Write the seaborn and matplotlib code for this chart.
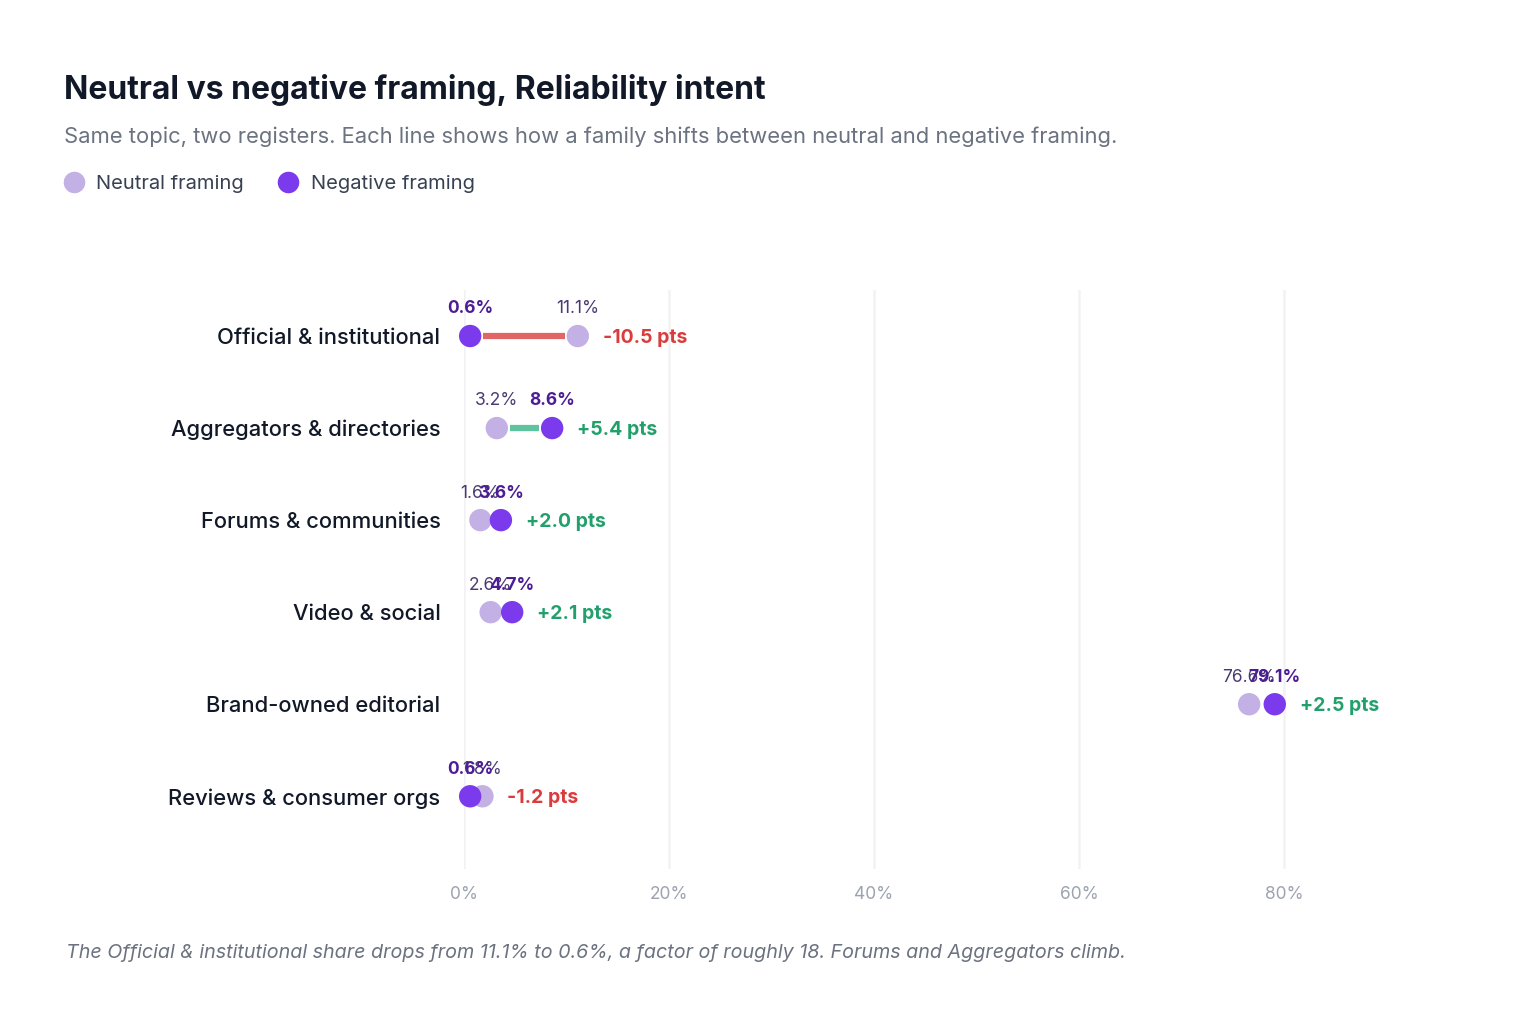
import pandas as pd
import matplotlib.pyplot as plt
import seaborn as sns
from matplotlib.lines import Line2D

# data
families = ['Official & institutional', 'Aggregators & directories', 'Forums & communities',
            'Video & social', 'Brand-owned editorial', 'Reviews & consumer orgs']
neutral = [11.1, 3.2, 1.6, 2.6, 76.6, 1.8]
negative = [0.6, 8.6, 3.6, 4.7, 79.1, 0.6]
x_ticks = [0, 20, 40, 60, 80]

c_neu = '#c3b1e5'
c_neg = '#7c3aed'
c_up_line, c_up_txt = '#5ec4a0', '#22a06b'
c_dn_line, c_dn_txt = '#e06666', '#dc3b3b'

sns.set_theme(style='white')
plt.rcParams['font.family'] = ['Inter', 'DejaVu Sans']

df = pd.DataFrame({'family': families, 'Neutral framing': neutral, 'Negative framing': negative})
df['y'] = range(len(df))
long = df.melt(id_vars=['family', 'y'], value_vars=['Neutral framing', 'Negative framing'],
               var_name='framing', value_name='share')

fig = plt.figure(figsize=(15.2, 10.32), dpi=100)
ax = fig.add_axes([464 / 1520, 1 - 869 / 1032, (90 * 10.25) / 1520, (869 - 290) / 1032])
ax.set_xlim(0, 90)
ax.set_ylim(5.79, -0.5)

# connector lines, stopping short of the dots
px_per_unit = ax.bbox.width / 90
pad = 13 / px_per_unit
for _, r in df.iterrows():
    lo, hi = sorted([r['Neutral framing'], r['Negative framing']])
    if hi - lo > 2 * pad:
        up = r['Negative framing'] >= r['Neutral framing']
        ax.plot([lo + pad, hi - pad], [r['y'], r['y']],
                color=c_up_line if up else c_dn_line, lw=4.5, solid_capstyle='butt', zorder=1)

sns.scatterplot(data=long, x='share', y='y', hue='framing',
                palette={'Neutral framing': c_neu, 'Negative framing': c_neg},
                s=260, edgecolor='none', legend=False, ax=ax, zorder=3, clip_on=False)

# labels
for _, r in df.iterrows():
    n, g, y = r['Neutral framing'], r['Negative framing'], r['y']
    ax.annotate(f'{n:.1f}%', (n, y), xytext=(0, 19.5), textcoords='offset points',
                ha='center', va='center', fontsize=12.5, color='#4a3a73')
    ax.annotate(f'{g:.1f}%', (g, y), xytext=(0, 19.5), textcoords='offset points',
                ha='center', va='center', fontsize=12.5, color='#4c1d95', fontweight='bold')
    d = g - n
    ax.annotate(f'{d:+.1f} pts', (max(n, g), y), xytext=(18, 0), textcoords='offset points',
                ha='left', va='center_baseline', fontsize=14, fontweight='bold',
                color=c_up_txt if d >= 0 else c_dn_txt)

ax.set_xticks(x_ticks)
ax.set_xticklabels([f'{t}%' for t in x_ticks])
ax.set_yticks(df['y'])
ax.set_yticklabels(families, fontweight='medium')
ax.tick_params(axis='x', colors='#9ca3af', labelsize=12.5, length=0, pad=12)
ax.tick_params(axis='y', colors='#111827', labelsize=15.8, length=0, pad=17)
ax.grid(axis='x', color='#f2f2f4', lw=1.8)
ax.set_axisbelow(True)
ax.set_xlabel('')
ax.set_ylabel('')
sns.despine(ax=ax, left=True, bottom=True)

fig.text(64 / 1520, 1 - 90 / 1032, 'Neutral vs negative framing, Reliability intent',
         fontsize=23, fontweight='bold', color='#111827', va='center')
fig.text(64 / 1520, 1 - 137 / 1032,
         'Same topic, two registers. Each line shows how a family shifts between neutral and negative framing.',
         fontsize=15.8, color='#6b7280', va='center')

handles = [Line2D([], [], marker='o', ls='', ms=14.5, color=c_neu, label='Neutral framing'),
           Line2D([], [], marker='o', ls='', ms=14.5, color=c_neg, label='Negative framing')]
fig.legend(handles=handles, loc='center left', bbox_to_anchor=(36 / 1520, 1 - 184 / 1032),
           ncol=2, frameon=False, fontsize=14.5, handletextpad=0.1, columnspacing=1.2,
           labelcolor='#374151')

fig.text(66 / 1520, 1 - 953 / 1032,
         'The Official & institutional share drops from 11.1% to 0.6%, a factor of roughly 18. '
         'Forums and Aggregators climb.',
         fontsize=14.2, color='#6b7280', style='italic', va='center')

fig.savefig('out.png', dpi=100, facecolor='white')
plt.close()
